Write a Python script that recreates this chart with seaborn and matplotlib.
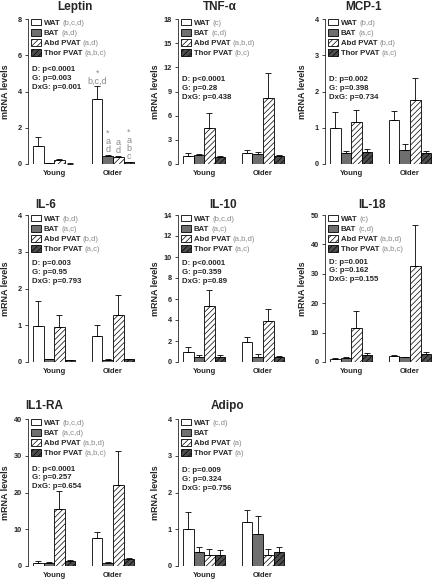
import numpy as np
import pandas as pd
import matplotlib
matplotlib.use("Agg")
import matplotlib.pyplot as plt
import seaborn as sns

sns.set_style("ticks")
plt.rcParams["font.family"] = ["Liberation Sans", "DejaVu Sans"]
plt.rcParams["hatch.linewidth"] = 0.5

# groups and tissues
ages = ["Young", "Older"]
tissues = ["WAT", "BAT", "Abd PVAT", "Thor PVAT"]

# means / SEM, order: Young (WAT, BAT, Abd, Thor), Older (WAT, BAT, Abd, Thor)
leptin_mean = [1.0, 0.03, 0.2, 0.02, 3.6, 0.45, 0.4, 0.1]
leptin_sem = [0.5, 0.01, 0.05, 0.01, 0.7, 0.07, 0.06, 0.03]
tnf_mean = [1.0, 1.15, 4.5, 0.85, 1.38, 1.3, 8.15, 1.0]
tnf_sem = [0.35, 0.12, 1.8, 0.1, 0.4, 0.2, 3.2, 0.1]
mcp_mean = [1.0, 0.31, 1.15, 0.34, 1.21, 0.4, 1.76, 0.31]
mcp_sem = [0.44, 0.06, 0.33, 0.07, 0.25, 0.16, 0.61, 0.05]
il6_mean = [0.99, 0.07, 0.94, 0.05, 0.72, 0.06, 1.28, 0.07]
il6_sem = [0.66, 0.01, 0.34, 0.01, 0.29, 0.01, 0.53, 0.01]
il10_mean = [1.0, 0.45, 5.3, 0.45, 1.9, 0.52, 3.86, 0.52]
il10_sem = [0.42, 0.2, 1.55, 0.17, 0.5, 0.26, 1.2, 0.08]
il18_mean = [1.1, 1.5, 11.7, 2.5, 2.05, 1.6, 32.6, 2.85]
il18_sem = [0.4, 0.2, 5.8, 0.6, 0.45, 0.2, 14.1, 0.55]
il1ra_mean = [0.85, 0.9, 15.6, 1.3, 7.65, 0.9, 22.05, 1.9]
il1ra_sem = [0.4, 0.2, 4.7, 0.35, 1.55, 0.2, 9.25, 0.4]
adipo_mean = [1.0, 0.39, 0.31, 0.31, 1.19, 0.87, 0.31, 0.37]
adipo_sem = [0.47, 0.14, 0.14, 0.13, 0.34, 0.5, 0.15, 0.15]

# y ticks
leptin_ticks = [0, 2, 4, 6, 8]
tnf_ticks = [0, 3, 6, 9, 12, 15, 18]
mcp_ticks = [0, 1, 2, 3, 4]
il6_ticks = [0, 1, 2, 3, 4]
il10_ticks = [0, 2, 4, 6, 8, 10, 12, 14]
il18_ticks = [0, 10, 20, 30, 40, 50]
il1ra_ticks = [0, 10, 20, 30, 40]
adipo_ticks = [0, 1, 2, 3, 4]

# legend letters
leptin_letters = ["(b,c,d)", "(a,d)", "(a,d)", "(a,b,c)"]
tnf_letters = ["(c)", "(c,d)", "(a,b,d)", "(b,c)"]
mcp_letters = ["(b,d)", "(a,c)", "(b,d)", "(a,c)"]
il6_letters = ["(b,d)", "(a,c)", "(b,d)", "(a,c)"]
il10_letters = ["(b,c,d)", "(a,c)", "(a,b,d)", "(a,c)"]
il18_letters = ["(c)", "(c,d)", "(a,b,d)", "(a,b,c)"]
il1ra_letters = ["(b,c,d)", "(a,c,d)", "(a,b,d)", "(a,b,c)"]
adipo_letters = ["(c,d)", "", "(a)", "(a)"]

# stats
leptin_stats = "D: p<0.0001\nG: p=0.003\nDxG: p=0.001"
tnf_stats = "D: p<0.0001\nG: p=0.28\nDxG: p=0.438"
mcp_stats = "D: p=0.002\nG: p=0.398\nDxG: p=0.734"
il6_stats = "D: p=0.003\nG: p=0.95\nDxG: p=0.793"
il10_stats = "D: p<0.0001\nG: p=0.359\nDxG: p=0.89"
il18_stats = "D: p=0.001\nG: p=0.162\nDxG: p=0.155"
il1ra_stats = "D: p<0.0001\nG: p=0.257\nDxG: p=0.654"
adipo_stats = "D: p=0.009\nG: p=0.324\nDxG: p=0.756"

# significance marks above older leptin bars
leptin_older_marks = ["*\nb,c,d", "*\na\nd", "a\nd", "*\na\nb\nc"]

fills = ["white", "#6f6f6f", "white", "#4d4d4d"]
hatches = [None, None, "//////", "//////"]
gray = "#8a8a8a"

fig = plt.figure(figsize=(4.36, 5.79), dpi=100)

W, H = 436, 579
col_left = [28, 178, 325]
row_top = [(19, 164), (215, 362), (419, 566)]


def make_ax(col, row):
    l = col_left[col]
    t, b = row_top[row]
    return fig.add_axes([l / W, 1 - b / H, 110 / W, (b - t) / H])


def draw_panel(ax, title, title_x, title_off, mean, sem, ticks, letters, stats, stats_y, marks=None):
    df = pd.DataFrame({"age": np.repeat(ages, 4), "tissue": tissues * 2, "value": mean})
    sns.barplot(data=df, x="age", y="value", hue="tissue", order=ages, hue_order=tissues,
                palette=fills, saturation=1, width=0.72, errorbar=None,
                edgecolor="black", linewidth=0.6, legend=False, ax=ax)
    bars = list(ax.containers)
    sem_arr = np.array(sem).reshape(2, 4)
    mean_arr = np.array(mean).reshape(2, 4)
    for i, cont in enumerate(bars):
        for bar in cont:
            if hatches[i]:
                bar.set_hatch(hatches[i])
            xc = bar.get_x() + bar.get_width() / 2
            g = int(round(xc))
            ax.errorbar(xc, bar.get_height(), yerr=[[0], [sem_arr[g, i]]], fmt="none",
                        ecolor="black", elinewidth=0.6, capsize=2.2, capthick=0.6, clip_on=False)
            if marks is not None and g == 1:
                ax.annotate(marks[i], xy=(xc, mean_arr[g, i] + sem_arr[g, i]),
                            xytext=(0, 0.5), textcoords="offset points", ha="center", va="bottom",
                            fontsize=6.5, color=gray, linespacing=0.85)

    ax.set_xlim(-0.445, 1.425)
    ax.set_ylim(0, ticks[-1])
    ax.set_yticks(ticks)
    ax.set_xlabel("")
    ax.set_ylabel("mRNA levels", fontsize=6.5, fontweight="bold")
    ax.yaxis.set_label_coords(-0.165, 0.5)
    sns.despine(ax=ax, bottom=True)
    ax.spines["left"].set_linewidth(0.6)
    ax.tick_params(axis="x", length=0, labelsize=5.5, pad=4)
    ax.tick_params(axis="y", length=2.5, width=0.6, labelsize=5.3, pad=2)
    for lab in ax.get_xticklabels() + ax.get_yticklabels():
        lab.set_fontweight("bold")

    ax.annotate(title, xy=(title_x, 1), xycoords="axes fraction", xytext=(0, title_off),
                textcoords="offset points", ha="center", va="center",
                fontsize=8.5, fontweight="bold")

    leg = ax.legend(bars, tissues, loc="upper left", bbox_to_anchor=(0.03, 1.0),
                    frameon=False, fontsize=5.6, handlelength=1.3, handleheight=0.9,
                    handletextpad=0.3, labelspacing=0.28, borderpad=0, borderaxespad=0)
    for txt, suf in zip(leg.get_texts(), letters):
        txt.set_fontweight("bold")
        if suf:
            ax.annotate(suf, xy=(1, 0), xycoords=txt, xytext=(1.6, 0),
                        textcoords="offset points", ha="left", va="bottom",
                        fontsize=5.6, color=gray, zorder=10)

    ax.text(0.04, stats_y, stats, transform=ax.transAxes, ha="left", va="center",
            fontsize=5.6, fontweight="bold", linespacing=1.35)


draw_panel(make_ax(0, 0), "Leptin", 0.43, 8.5, leptin_mean, leptin_sem, leptin_ticks,
           leptin_letters, leptin_stats, 0.59, leptin_older_marks)
draw_panel(make_ax(1, 0), "TNF-α", 0.38, 8.5, tnf_mean, tnf_sem, tnf_ticks,
           tnf_letters, tnf_stats, 0.52)
draw_panel(make_ax(2, 0), "MCP-1", 0.35, 8.5, mcp_mean, mcp_sem, mcp_ticks,
           mcp_letters, mcp_stats, 0.52)
draw_panel(make_ax(0, 1), "IL-6", 0.16, 7.5, il6_mean, il6_sem, il6_ticks,
           il6_letters, il6_stats, 0.61)
draw_panel(make_ax(1, 1), "IL-10", 0.41, 7.5, il10_mean, il10_sem, il10_ticks,
           il10_letters, il10_stats, 0.61)
draw_panel(make_ax(2, 1), "IL-18", 0.43, 7.5, il18_mean, il18_sem, il18_ticks,
           il18_letters, il18_stats, 0.62)
draw_panel(make_ax(0, 2), "IL1-RA", 0.15, 9.5, il1ra_mean, il1ra_sem, il1ra_ticks,
           il1ra_letters, il1ra_stats, 0.6)
draw_panel(make_ax(1, 2), "Adipo", 0.45, 9.5, adipo_mean, adipo_sem, adipo_ticks,
           adipo_letters, adipo_stats, 0.59)

fig.savefig("out.png", dpi=100)
